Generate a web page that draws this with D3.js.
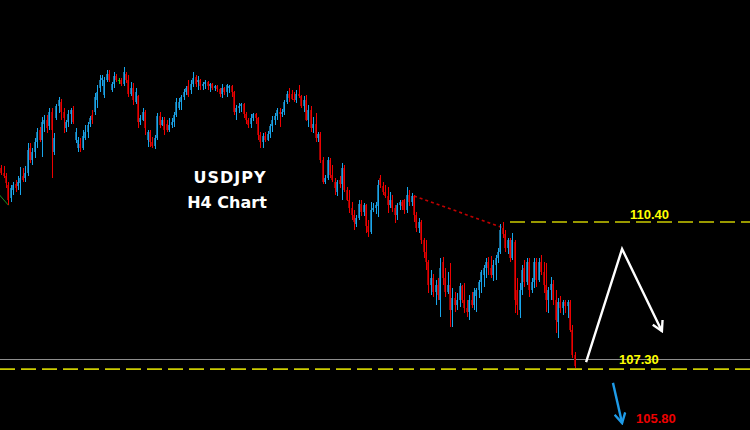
<!DOCTYPE html>
<html><head><meta charset="utf-8">
<script src="https://cdn.jsdelivr.net/npm/d3@7"></script>
<style>html,body{margin:0;padding:0;background:#000;overflow:hidden}</style>
</head><body>
<svg id="chart" width="750" height="430"></svg>
<script>
// ---- Data (USDJPY H4 candles) ----
const opens = [
111.62,111.52,111.44,111.24,110.94,111.12,111.26,111.22,111.28,111.44,
111.39,111.52,112.07,111.80,111.98,112.20,112.48,112.25,112.62,112.71,
112.57,112.88,111.98,112.75,113.02,113.11,112.88,112.52,112.66,112.84,
112.93,112.25,112.07,112.16,112.07,112.30,112.43,112.62,112.82,112.88,
113.16,113.43,113.61,113.27,113.61,113.75,113.38,113.52,113.70,113.61,
113.61,113.52,113.75,113.61,113.29,113.43,113.11,113.25,112.66,112.71,
112.88,112.25,112.43,112.20,112.12,112.30,112.80,112.59,112.71,112.62,
112.48,112.59,112.66,112.82,112.97,113.11,113.22,113.34,113.48,113.38,
113.52,113.68,113.56,113.61,113.48,113.52,113.56,113.48,113.52,113.43,
113.48,113.41,113.29,113.43,113.34,113.43,113.48,113.34,112.88,112.97,
113.02,113.07,112.84,112.71,112.62,112.75,112.84,112.75,112.37,112.20,
112.34,112.25,112.39,112.57,112.71,112.80,112.88,112.84,112.88,113.11,
113.29,113.29,113.18,113.16,113.29,113.25,113.02,113.16,112.71,112.93,
112.52,112.62,112.30,112.39,111.80,111.30,111.39,111.80,111.46,111.30,
111.07,111.35,111.26,111.62,111.12,110.90,110.72,110.56,110.35,110.49,
110.81,110.63,110.78,110.31,110.17,110.67,110.72,110.76,111.39,111.22,
111.07,110.99,110.78,110.90,110.72,110.56,110.78,110.85,110.90,110.67,
111.01,110.85,110.99,110.56,110.26,110.40,109.99,109.72,109.49,108.97,
109.13,108.81,108.97,108.63,109.49,109.13,108.81,108.97,108.41,108.68,
108.52,108.63,108.95,108.63,108.45,108.36,108.63,108.52,108.72,108.86,
109.04,109.20,109.36,109.49,109.36,109.20,109.43,109.58,109.72,110.26,
110.13,109.81,109.99,109.58,109.94,108.86,108.41,108.86,109.36,109.04,
109.49,108.86,109.04,109.49,109.09,109.49,109.27,108.97,108.63,108.86,
108.99,108.63,108.14,108.59,108.45,108.59,108.50,108.59,107.96,107.39];
const highs = [
111.69,111.67,111.52,111.30,111.24,111.30,111.35,111.44,111.64,111.62,
111.67,112.18,112.18,112.07,112.30,112.52,112.54,112.77,112.82,112.82,
112.97,112.97,112.41,113.07,113.22,113.18,112.97,112.71,112.93,112.97,
113.02,112.52,112.32,112.30,112.48,112.59,112.66,112.80,112.93,113.31,
113.50,113.72,113.72,113.68,113.84,113.84,113.56,113.79,113.75,113.65,
113.65,113.90,113.79,113.72,113.56,113.54,113.43,113.27,112.82,112.97,
112.93,112.48,112.48,112.32,112.37,112.86,112.88,112.77,112.77,112.71,
112.75,112.75,112.88,113.20,113.20,113.27,113.41,113.48,113.61,113.61,
113.79,113.72,113.70,113.63,113.56,113.61,113.59,113.54,113.54,113.50,
113.50,113.43,113.52,113.45,113.52,113.50,113.50,113.36,113.04,113.09,
113.09,113.09,112.88,112.75,112.84,112.86,112.86,112.77,112.43,112.41,
112.43,112.46,112.62,112.80,112.86,112.97,112.97,112.95,113.16,113.36,
113.43,113.38,113.34,113.38,113.50,113.27,113.25,113.27,113.04,113.02,
112.77,112.86,112.43,112.43,111.86,111.46,111.86,111.84,111.69,111.39,
111.35,111.44,111.73,111.69,111.19,111.12,110.85,110.67,110.56,110.90,
110.90,110.83,110.81,110.44,110.85,110.83,110.85,111.35,111.46,111.30,
111.24,111.19,111.07,111.01,110.78,110.83,110.90,110.90,110.92,111.19,
111.12,111.05,111.01,110.63,110.49,110.44,110.04,109.99,109.54,109.31,
109.22,109.09,109.13,109.58,109.61,109.36,109.27,109.47,108.90,108.81,
108.79,109.02,108.97,109.02,108.63,108.75,108.81,108.90,108.90,109.09,
109.31,109.43,109.58,109.61,109.63,109.54,109.65,109.81,110.35,110.40,
110.22,110.04,110.04,110.15,109.99,109.13,109.02,109.43,109.54,109.58,
109.58,109.13,109.58,109.58,109.58,109.65,109.49,109.47,108.93,109.15,
109.09,108.86,108.68,108.72,108.63,108.63,108.63,108.63,108.07,107.45];
const lows = [
111.46,111.39,111.17,110.78,110.85,111.01,111.07,111.12,111.01,111.30,
111.30,111.44,111.73,111.69,111.84,112.07,112.20,111.86,112.43,112.41,
112.48,111.39,111.91,112.71,112.86,112.71,112.41,112.43,112.54,112.62,
112.62,112.18,111.98,111.98,112.03,112.25,112.30,112.54,112.62,112.82,
112.99,113.34,113.48,113.20,113.56,113.56,113.34,113.43,113.56,113.52,
113.48,113.48,113.54,113.22,113.25,113.04,113.07,112.52,112.59,112.68,
112.37,112.10,112.10,112.07,112.05,112.25,112.52,112.57,112.37,112.43,
112.43,112.52,112.54,112.77,112.93,112.93,113.16,113.27,113.22,113.29,
113.45,113.45,113.38,113.38,113.38,113.41,113.38,113.34,113.38,113.36,
113.34,113.22,113.20,113.27,113.22,113.31,113.22,112.82,112.71,112.86,
112.88,112.75,112.62,112.52,112.52,112.68,112.62,112.25,112.07,112.07,
112.20,112.23,112.30,112.43,112.59,112.71,112.54,112.77,112.82,113.07,
113.11,113.16,113.11,113.09,113.20,112.97,112.88,112.68,112.54,112.43,
112.41,112.20,112.20,111.73,111.26,111.26,111.35,111.39,111.30,111.01,
110.99,111.17,110.90,111.07,110.88,110.61,110.44,110.22,110.28,110.44,
110.54,110.54,110.15,110.06,110.13,110.63,110.58,110.51,111.17,111.01,
110.94,110.60,110.72,110.63,110.37,110.44,110.67,110.67,110.58,110.60,
110.76,110.76,110.40,110.17,110.15,109.90,109.58,109.31,108.79,108.75,
108.70,108.52,108.63,108.25,108.97,108.70,108.77,108.02,108.02,108.36,
108.41,108.48,108.57,108.34,108.25,108.18,108.45,108.41,108.36,108.68,
108.79,108.93,109.13,109.20,109.13,109.06,109.09,109.47,109.67,110.04,
109.72,109.67,109.49,109.54,108.34,108.29,108.23,108.75,108.93,108.97,
108.70,108.79,108.90,108.93,109.04,109.20,108.79,108.36,108.34,108.63,
108.52,107.89,107.78,108.34,108.29,108.34,108.23,107.91,107.32,107.09];
const closes = [
111.52,111.44,111.28,110.90,111.17,111.24,111.17,111.30,111.39,111.35,
111.52,112.03,111.80,111.98,112.20,112.43,112.25,112.66,112.71,112.52,
112.88,112.48,112.30,113.02,113.16,112.88,112.75,112.66,112.84,112.93,
112.66,112.43,112.25,112.07,112.34,112.43,112.59,112.75,112.71,113.22,
113.34,113.61,113.65,113.61,113.75,113.61,113.52,113.70,113.61,113.61,
113.52,113.79,113.61,113.29,113.43,113.16,113.34,112.66,112.75,112.88,
112.52,112.43,112.20,112.12,112.30,112.80,112.59,112.71,112.48,112.48,
112.59,112.66,112.82,113.11,113.11,113.22,113.34,113.43,113.27,113.52,
113.65,113.52,113.61,113.48,113.52,113.56,113.48,113.52,113.43,113.48,
113.41,113.29,113.43,113.34,113.50,113.48,113.34,112.88,112.97,113.02,
113.07,112.84,112.71,112.59,112.75,112.84,112.75,112.37,112.20,112.34,
112.25,112.39,112.57,112.71,112.80,112.93,112.84,112.88,113.11,113.29,
113.20,113.18,113.16,113.29,113.25,113.02,113.16,112.71,112.93,112.52,
112.62,112.30,112.39,111.80,111.30,111.39,111.80,111.46,111.35,111.17,
111.30,111.26,111.62,111.12,110.90,110.72,110.56,110.39,110.49,110.81,
110.63,110.78,110.31,110.17,110.67,110.72,110.78,111.24,111.24,111.07,
110.99,110.78,110.90,110.72,110.56,110.78,110.85,110.76,110.67,111.01,
110.85,110.99,110.56,110.26,110.40,109.99,109.72,109.49,108.97,109.13,
108.81,108.97,108.75,109.36,109.13,108.81,108.97,108.41,108.68,108.52,
108.63,108.95,108.63,108.45,108.36,108.63,108.52,108.81,108.86,109.04,
109.27,109.36,109.49,109.36,109.20,109.43,109.58,109.72,110.22,110.13,
109.81,109.99,109.58,109.99,108.63,108.52,108.86,109.31,109.04,109.49,
108.86,109.04,109.49,109.09,109.49,109.27,108.97,108.63,108.86,108.99,
108.63,108.18,108.59,108.45,108.59,108.50,108.59,107.96,107.39,107.14];

// Levels and labels
const resistance = 110.40;
const support = 107.30;
const supportZone = 107.07;
const target = 105.80;
const levelLabels = ["110.40", "107.30", "105.80"];
const titleLines = ["USDJPY", "H4 Chart"];

// Drawn lines (bar index, price)
const trendIdx = [172, 208.5];
const trendPrice = [110.99, 110.28];
const greenIdx = [-1, 3];
const greenPrice = [111.03, 110.78];
const projIdx = [243.7, 258.7, 275.3];
const projPrice = [107.23, 109.79, 107.93];
const bearIdx = [254.9, 258.7];
const bearPrice = [106.76, 105.85];

// ---- Drawing ----
const W = 750, H = 430;
const svg = d3.select("#chart");
svg.append("rect").attr("width", W).attr("height", H).attr("fill", "#000");

const x = d3.scaleLinear().domain([0, 239]).range([1.2, 574.8]);
const y = d3.scaleLinear().domain([resistance, support]).range([222, 359]);

const defs = svg.append("defs");
function marker(id, color) {
  defs.append("marker").attr("id", id)
    .attr("viewBox", "0 0 12 12").attr("refX", 10).attr("refY", 6)
    .attr("markerWidth", 13).attr("markerHeight", 13)
    .attr("markerUnits", "userSpaceOnUse").attr("orient", "auto")
    .append("path").attr("d", "M1,1 L10,6 L1,11")
    .attr("fill", "none").attr("stroke", color).attr("stroke-width", 2.2);
}
marker("arrW", "#ffffff");
marker("arrB", "#1e9be8");

// horizontal levels
svg.append("line").attr("x1", 0).attr("x2", W)
  .attr("y1", Math.round(y(support)) + 0.5).attr("y2", Math.round(y(support)) + 0.5)
  .attr("stroke", "#8e8e8e").attr("stroke-width", 1);
svg.append("line").attr("x1", 0).attr("x2", W)
  .attr("y1", y(supportZone)).attr("y2", y(supportZone))
  .attr("stroke", "#cccc00").attr("stroke-width", 1.6).attr("stroke-dasharray", "15,6");
svg.append("line").attr("x1", x(212)).attr("x2", W)
  .attr("y1", y(resistance)).attr("y2", y(resistance))
  .attr("stroke", "#cccc00").attr("stroke-width", 1.6).attr("stroke-dasharray", "15,6");

const lineGen = d3.line().x(d => x(d[0])).y(d => y(d[1]));

// red dotted trendline
svg.append("path").attr("d", lineGen(d3.zip(trendIdx, trendPrice)))
  .attr("stroke", "#c00000").attr("stroke-width", 1.6).attr("stroke-dasharray", "3,3").attr("fill", "none");
// small green trendline
svg.append("path").attr("d", lineGen(d3.zip(greenIdx, greenPrice)))
  .attr("stroke", "#1f8f1f").attr("stroke-width", 1).attr("fill", "none");

// candles
const candles = d3.range(opens.length).map(i => ({i, o: opens[i], h: highs[i], l: lows[i], c: closes[i]}));
const g = svg.append("g").attr("shape-rendering", "crispEdges");
const bodyCol = d => d.c > d.o ? "#1a6d98" : d.c < d.o ? "#9a0000" : "#00b000";
const wickCol = d => d.c > d.o ? "#18a6ec" : d.c < d.o ? "#ee0000" : "#22cc22";
g.selectAll("rect.body").data(candles).join("rect").attr("class", "body")
  .attr("x", d => Math.round(x(d.i)) - 1).attr("width", 2)
  .attr("y", d => y(Math.max(d.o, d.c)))
  .attr("height", d => Math.max(1, Math.abs(y(d.o) - y(d.c))))
  .attr("fill", bodyCol);
g.selectAll("rect.wick").data(candles).join("rect").attr("class", "wick")
  .attr("x", d => Math.round(x(d.i))).attr("width", 1)
  .attr("y", d => y(d.h)).attr("height", d => Math.max(1, y(d.l) - y(d.h)))
  .attr("fill", wickCol);

// projection arrows
svg.append("path").attr("d", lineGen(d3.zip(projIdx, projPrice)))
  .attr("stroke", "#fff").attr("stroke-width", 2.4).attr("fill", "none")
  .attr("stroke-linejoin", "miter").attr("marker-end", "url(#arrW)");
svg.append("path").attr("d", lineGen(d3.zip(bearIdx, bearPrice)))
  .attr("stroke", "#1e9be8").attr("stroke-width", 2.4).attr("fill", "none")
  .attr("marker-end", "url(#arrB)");

// labels
const lf = "'Liberation Sans', Arial, sans-serif";
const tf = "'DejaVu Sans', Verdana, sans-serif";
svg.append("text").attr("x", 630).attr("y", y(resistance) - 3).text(levelLabels[0])
  .attr("font-family", lf).attr("font-weight", "bold").attr("font-size", 13).attr("fill", "#ffff00");
svg.append("text").attr("x", 619).attr("y", y(support) + 4.5).text(levelLabels[1])
  .attr("font-family", lf).attr("font-weight", "bold").attr("font-size", 13).attr("fill", "#ffff00");
svg.append("text").attr("x", 636).attr("y", y(target) - 2).text(levelLabels[2])
  .attr("font-family", lf).attr("font-weight", "bold").attr("font-size", 13).attr("fill", "#ee0000");

svg.append("text").attr("x", 230).attr("y", 183).attr("text-anchor", "middle").text(titleLines[0])
  .attr("font-family", tf).attr("font-weight", "bold").attr("font-size", 16)
  .attr("letter-spacing", 1).attr("fill", "#fff");
svg.append("text").attr("x", 227).attr("y", 208).attr("text-anchor", "middle").text(titleLines[1])
  .attr("font-family", tf).attr("font-weight", "bold").attr("font-size", 16).attr("fill", "#fff");
</script>
</body></html>
